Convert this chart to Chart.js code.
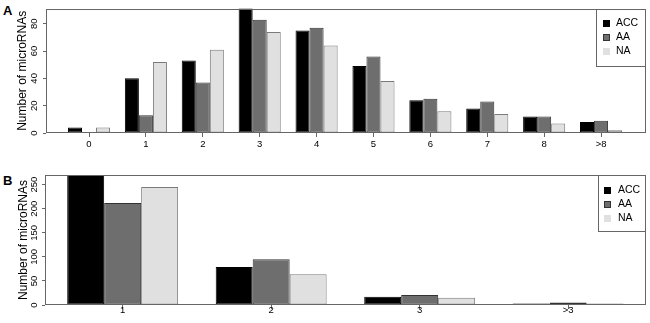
<!DOCTYPE html>
<html>
<head>
<meta charset="utf-8">
<title>microRNA counts</title>
<script src="https://cdn.jsdelivr.net/npm/chart.js@4.4.0/dist/chart.umd.min.js"></script>
<style>
  body { margin: 0; background: #fff; width: 650px; height: 323px; position: relative; overflow: hidden; }
  .panel { position: absolute; left: 0; width: 650px; }
  #panelA { top: 0; height: 160px; }
  #panelB { top: 160px; height: 163px; }
  .tag { position: absolute; font: bold 13px 'Liberation Sans', Arial, sans-serif; color: #000; }
</style>
</head>
<body>
<div class="tag" style="left:3px; top:3px;">A</div>
<div class="tag" style="left:3px; top:173px;">B</div>
<div class="panel" id="panelA"><canvas id="chartA"></canvas></div>
<div class="panel" id="panelB"><canvas id="chartB"></canvas></div>

<script>
// panel A: number of microRNAs per count
const catsA = ['0', '1', '2', '3', '4', '5', '6', '7', '8', '>8'];
const accA = [4, 40, 53, 92, 75, 49, 24, 18, 12, 8];
const aaA = [0, 13, 37, 83, 77, 56, 25, 23, 12, 9];
const naA = [4, 52, 61, 74, 64, 38, 16, 14, 7, 2];

// panel B
const catsB = ['1', '2', '3', '>3'];
const accB = [270, 79, 17, 3];
const aaB = [212, 95, 21, 5];
const naB = [245, 64, 15, 3];

const groups = ['ACC', 'AA', 'NA'];
const fills = ['#000000', '#6e6e6e', '#e0e0e0'];
const edges = ['#000000', '#333333', '#7a7a7a'];

const FONT = "'Liberation Sans', Arial, sans-serif";

const boxAndLegend = {
  id: 'boxAndLegend',
  afterDatasetsDraw(chart, args, opts) {
    const { ctx, chartArea: a } = chart;
    ctx.save();
    ctx.strokeStyle = '#666';
    ctx.lineWidth = 1;
    const l = Math.round(a.left), t = Math.round(a.top);
    ctx.strokeRect(l + 0.5, t + 0.5, Math.round(a.right) - l - 1, Math.round(a.bottom) - t - 1);

    // legend box in the top right corner
    const lx = Math.round(a.right - opts.width);
    ctx.fillStyle = '#fff';
    ctx.fillRect(lx, t + 1, opts.width - 1, opts.height);
    ctx.strokeRect(lx + 0.5, t + 0.5, Math.round(a.right) - lx - 1, opts.height);
    ctx.font = '10.5px ' + FONT;
    ctx.textBaseline = 'middle';
    chart.data.datasets.forEach((ds, i) => {
      const y = t + opts.first + i * opts.step;
      ctx.fillStyle = ds.backgroundColor;
      ctx.fillRect(lx + opts.sq, Math.round(y - 3.5), 7, 7);
      if (i < 2) {
        ctx.strokeStyle = ds.borderColor;
        ctx.strokeRect(lx + opts.sq + 0.5, Math.round(y - 3.5) + 0.5, 6, 6);
      }
      ctx.fillStyle = '#000';
      ctx.fillText(ds.label, lx + opts.text, y);
    });
    ctx.restore();
  }
};

function makeDatasets(cats, series) {
  return series.map((vals, k) => ({
    label: groups[k],
    data: cats.map((c, i) => ({ x: i, y: vals[i] })),
    backgroundColor: fills[k],
    borderColor: edges[k],
    borderWidth: 1,
    borderSkipped: false
  }));
}

function makeChart(id, cats, series, cfg) {
  return new Chart(document.getElementById(id), {
    type: 'bar',
    data: { datasets: makeDatasets(cats, series) },
    options: {
      responsive: true,
      maintainAspectRatio: false,
      animation: false,
      events: [],
      categoryPercentage: cfg.catPct,
      barPercentage: 1,
      layout: { padding: { top: cfg.top, right: 4, left: 0, bottom: 0 } },
      plugins: {
        legend: { display: false },
        tooltip: { enabled: false },
        boxAndLegend: cfg.legend
      },
      scales: {
        x: {
          type: 'linear',
          min: cfg.xMin,
          max: cfg.xMax,
          offset: false,
          afterFit: (s) => { s.height = cfg.xHeight; },
          border: { display: false },
          grid: { offset: false, drawOnChartArea: false, drawTicks: true, tickLength: 4, color: '#666' },
          ticks: {
            stepSize: 1,
            includeBounds: false,
            autoSkip: false,
            maxRotation: 0,
            padding: cfg.xPad,
            color: '#000',
            font: { family: FONT, size: 9.5 },
            callback: (v) => cats[v] ?? ''
          }
        },
        y: {
          min: 0,
          max: cfg.yMax,
          afterFit: (s) => { s.width = cfg.yWidth; },
          border: { display: false },
          grid: { drawOnChartArea: false, drawTicks: true, tickLength: 3, color: '#666' },
          ticks: {
            stepSize: cfg.yStep,
            includeBounds: false,
            minRotation: 90,
            maxRotation: 90,
            crossAlign: 'center',
            padding: cfg.yPad,
            color: '#000',
            font: { family: FONT, size: 9.5 }
          },
          title: {
            display: true,
            text: 'Number of microRNAs',
            color: '#000',
            font: { family: FONT, size: 12 },
            padding: { top: cfg.titlePad, bottom: 0 }
          }
        }
      }
    },
    plugins: [boxAndLegend]
  });
}

makeChart('chartA', catsA, [accA, aaA, naA], {
  catPct: 0.74, top: 3, xMin: -0.756, xMax: 9.79, xHeight: 27, xPad: 2,
  yMax: 91, yStep: 20, yWidth: 46, yPad: 3, titlePad: 15,
  legend: { width: 50, height: 57, first: 14, step: 14.3, sq: 7, text: 20 }
});

makeChart('chartB', catsB, [accB, aaB, naB], {
  catPct: 0.747, top: 15, xMin: -0.523, xMax: 3.524, xHeight: 18, xPad: -4,
  yMax: 270, yStep: 50, yWidth: 45, yPad: 0, titlePad: 16,
  legend: { width: 48, height: 56, first: 15, step: 14, sq: 6, text: 20 }
});
</script>
</body>
</html>
